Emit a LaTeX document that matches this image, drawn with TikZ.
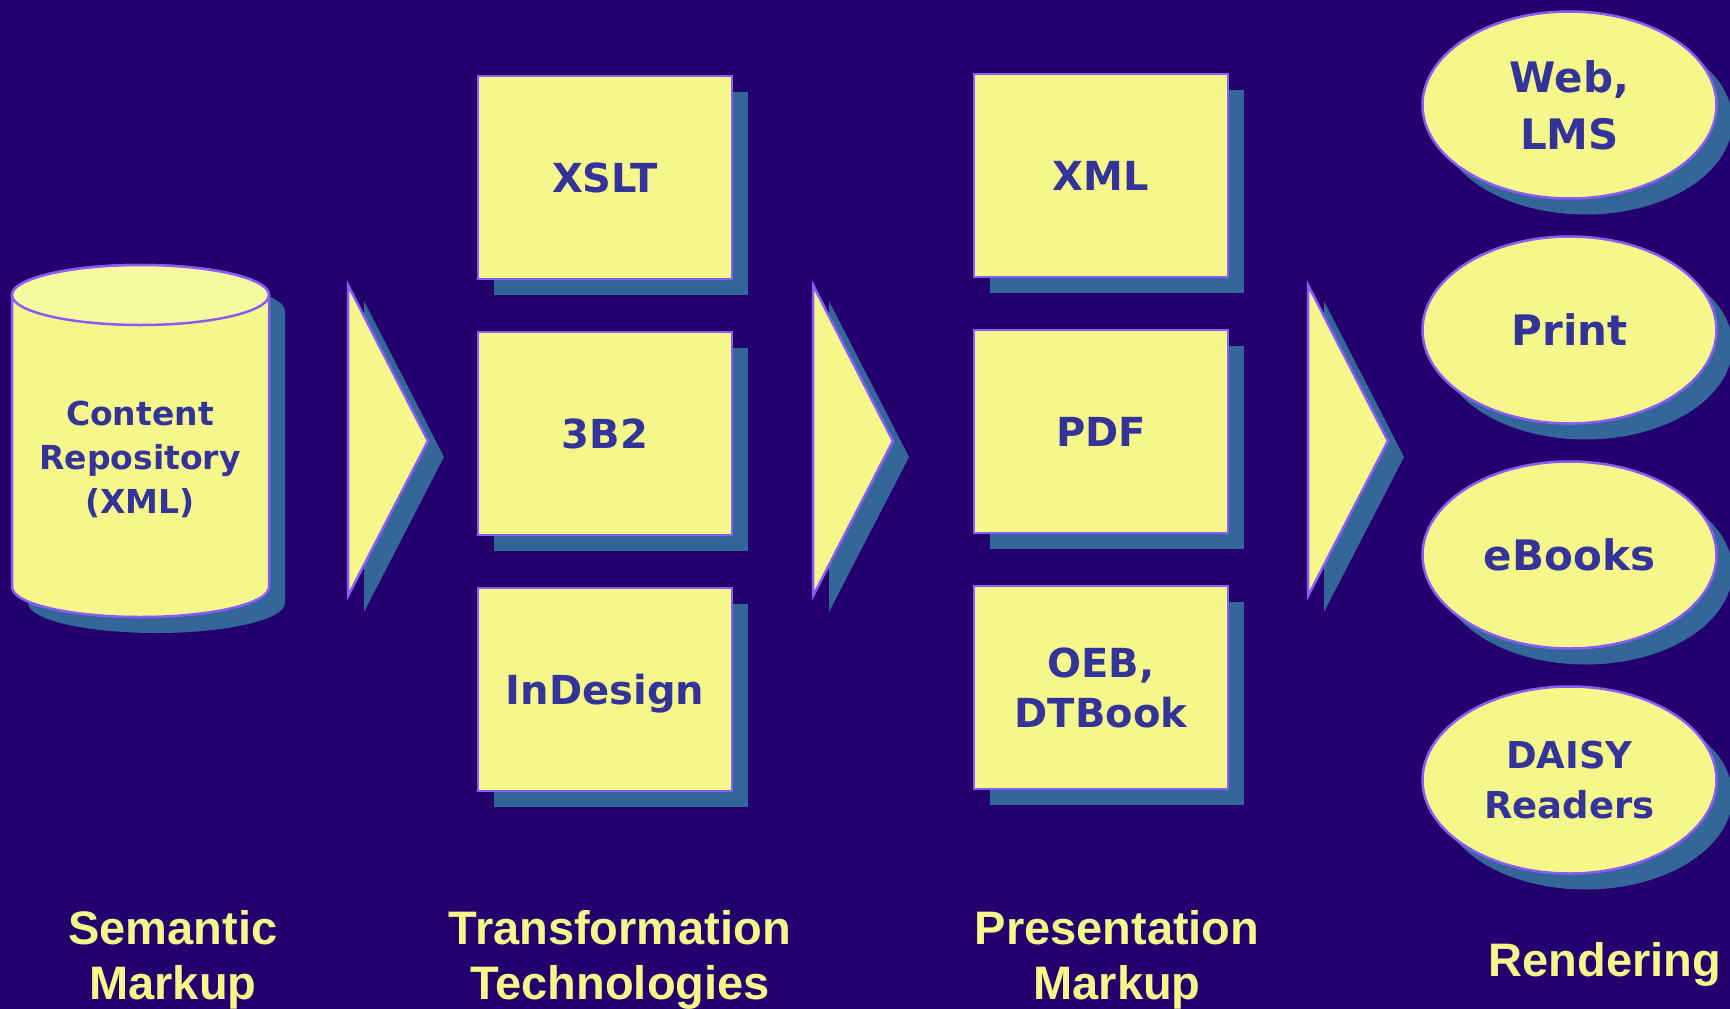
\documentclass[tikz,border=0pt]{standalone}
\usepackage{fontspec}
\setmainfont{Liberation Sans}
\newfontfamily\shapefont{DejaVu Sans}
\usetikzlibrary{shapes.geometric,shadows}

\definecolor{bgblue}{RGB}{36,0,110}
\definecolor{padyellow}{RGB}{245,247,139}
\definecolor{lidyellow}{RGB}{247,249,160}
\definecolor{rimviolet}{RGB}{138,92,246}
\definecolor{shadeblue}{RGB}{51,102,153}
\definecolor{inkblue}{RGB}{51,51,153}

\begin{document}
\begin{tikzpicture}[x=1pt,y=1pt]
		\tikzstyle{box}  = [rectangle,draw=rimviolet,line width=2.5pt,fill=padyellow,inner sep=0pt,
			minimum width=254pt,minimum height=203pt,text=inkblue,align=center,text depth=0pt,
			font=\shapefont\bfseries\fontsize{40}{50}\selectfont,
			drop shadow={shadow xshift=16pt,shadow yshift=-16pt,fill=shadeblue,opacity=1}]
		\tikzstyle{oval} = [ellipse,draw=rimviolet,line width=2.5pt,fill=padyellow,inner sep=0pt,
			minimum width=294pt,minimum height=187pt,text=inkblue,align=center,
			font=\shapefont\bfseries\fontsize{42}{57}\selectfont,
			drop shadow={shadow xshift=16pt,shadow yshift=-16pt,fill=shadeblue,opacity=1}]
		\tikzstyle{caption} = [text=padyellow,align=center,font=\bfseries\fontsize{47}{55}\selectfont]
		\tikzstyle{rim} = [fill=padyellow,draw=rimviolet,line width=2.5pt]
		
		\fill[bgblue] (0,0) rectangle (1730,-1009);
		\useasboundingbox (0,0) rectangle (1730,-1009);
		
		% repository cylinder
		\fill[shadeblue] (28,-311) -- (28,-603) arc (180:360:128.5 and 30) -- (285,-311) arc (0:180:128.5 and 30) -- cycle;
		\filldraw[rim] (12,-295) -- (12,-587) arc (180:360:128.5 and 30) -- (269,-295) arc (0:180:128.5 and 30) -- cycle;
		\filldraw[rim,fill=lidyellow] (140.5,-295) ellipse (128.5 and 30);
		\node[text=inkblue,align=center,font=\shapefont\bfseries\fontsize{33}{44}\selectfont] (repo) at (140,-459) {Content\\Repository\\(XML)};
		
		% arrows
		\foreach \ax in {348,813,1308} {
			\fill[shadeblue] (\ax+16,-301) -- (\ax+96,-457) -- (\ax+16,-612) -- cycle;
			\filldraw[rim] (\ax,-285) -- (\ax+80,-441) -- (\ax,-596) -- cycle;
		}
		
		\node[box] (xslt) at (605,-177.5) {XSLT};
		\node[box] (tbtwo) at (605,-433.5) {3B2};
		\node[box] (indesign) at (605,-689.5) {InDesign};
		
		\node[box] (xml) at (1101,-175.5) {XML};
		\node[box] (pdf) at (1101,-431.5) {PDF};
		\node[box] (oeb) at (1101,-687.5) {OEB,\\DTBook};
		
		\node[oval] (web) at (1569.5,-105) {Web,\\LMS};
		\node[oval] (print) at (1569.5,-330) {Print};
		\node[oval] (ebooks) at (1569.5,-555) {eBooks};
		\node[oval,font=\shapefont\bfseries\fontsize{37}{50}\selectfont] (daisy) at (1569.5,-780) {DAISY\\Readers};
		
		\node[caption] (semantic) at (173,-960) {Semantic\\Markup};
		\node[caption] (transform) at (620,-960) {Transformation\\Technologies};
		\node[caption] (present) at (1117,-960) {Presentation\\Markup};
		\node[caption] (render) at (1605,-964) {Rendering};
	\end{tikzpicture}
\end{document}
